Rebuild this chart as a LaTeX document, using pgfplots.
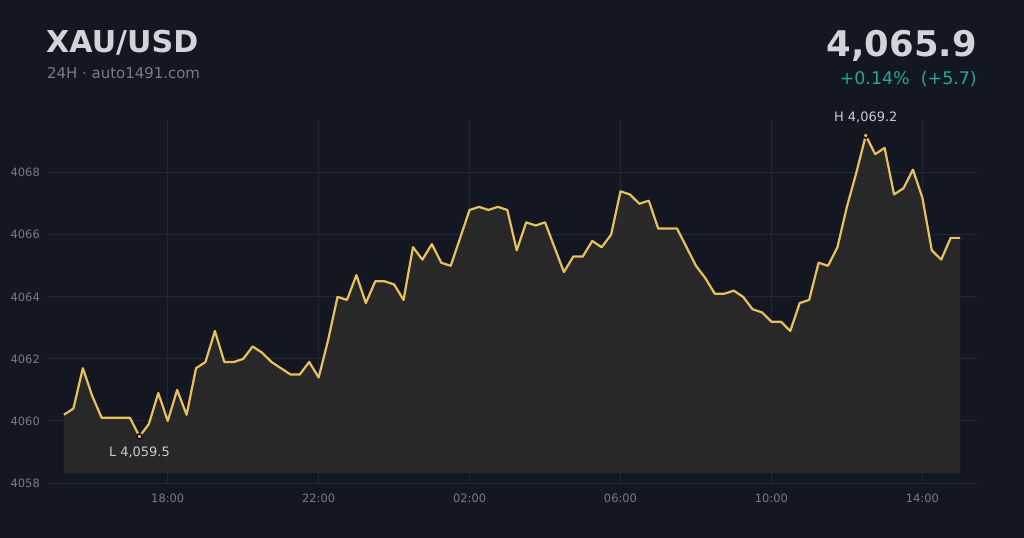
\documentclass[border=0pt]{standalone}
\usepackage{fontspec}
\setmainfont{DejaVu Sans}
\usepackage{pgfplots}
\usepackage{pgfplotstable}
\pgfplotsset{compat=1.18}
\definecolor{bgc}{HTML}{131722}
\definecolor{gridc}{HTML}{232733}
\definecolor{tickc}{HTML}{787B86}
\definecolor{titlec}{HTML}{D1D4DC}
\definecolor{gold}{HTML}{E6C15C}
\definecolor{tealc}{HTML}{26A69A}
\definecolor{hlc}{HTML}{C8CBD3}
\definecolor{fillc}{HTML}{2D2C2A}
\pgfplotstableread{
i v
0 4060.2
1 4060.4
2 4061.7
3 4060.8
4 4060.1
5 4060.1
6 4060.1
7 4060.1
8 4059.5
9 4059.9
10 4060.9
11 4060.0
12 4061.0
13 4060.2
14 4061.7
15 4061.9
16 4062.9
17 4061.9
18 4061.9
19 4062.0
20 4062.4
21 4062.2
22 4061.9
23 4061.7
24 4061.5
25 4061.5
26 4061.9
27 4061.4
28 4062.6
29 4064.0
30 4063.9
31 4064.7
32 4063.8
33 4064.5
34 4064.5
35 4064.4
36 4063.9
37 4065.6
38 4065.2
39 4065.7
40 4065.1
41 4065.0
42 4065.9
43 4066.8
44 4066.9
45 4066.8
46 4066.9
47 4066.8
48 4065.5
49 4066.4
50 4066.3
51 4066.4
52 4065.6
53 4064.8
54 4065.3
55 4065.3
56 4065.8
57 4065.6
58 4066.0
59 4067.4
60 4067.3
61 4067.0
62 4067.1
63 4066.2
64 4066.2
65 4066.2
66 4065.6
67 4065.0
68 4064.6
69 4064.1
70 4064.1
71 4064.2
72 4064.0
73 4063.6
74 4063.5
75 4063.2
76 4063.2
77 4062.9
78 4063.8
79 4063.9
80 4065.1
81 4065.0
82 4065.6
83 4066.9
84 4068.0
85 4069.2
86 4068.6
87 4068.8
88 4067.3
89 4067.5
90 4068.1
91 4067.2
92 4065.5
93 4065.2
94 4065.9
95 4065.9
95 4058.34
0 4058.34
}\pricedata
\begin{document}
\begin{tikzpicture}
\path[use as bounding box] (0,0) rectangle (1024bp,538bp);
\fill[bgc] (0,0) rectangle (1024bp,538bp);
\node[anchor=base west, inner sep=0, text=titlec, font=\fontsize{30.2}{33}\selectfont\bfseries] at (46bp,485bp) {XAU/USD};
\node[anchor=base west, inner sep=0, text=tickc, font=\fontsize{15}{17}\selectfont] at (47bp,459bp) {24H · auto1491.com};
\node[anchor=base east, inner sep=0, text=titlec, font=\fontsize{35.5}{38}\selectfont\bfseries] at (977bp,481bp) {4,065.9};
\node[anchor=base east, inner sep=0, text=tealc, font=\fontsize{17.5}{19}\selectfont] at (977bp,453bp) {+0.14\%\ \ (+5.7)};
\begin{axis}[
  at={(47bp,55bp)}, anchor=south west,
  scale only axis, width=931bp, height=363bp,
  xmin=-1.8, xmax=96.9, ymin=4058, ymax=4069.7,
  xtick={11,27,43,59,75,91},
  xticklabels={18:00,22:00,02:00,06:00,10:00,14:00},
  ytick={4058,4060,4062,4064,4066,4068},
  grid=major, major grid style={draw=gridc, line width=0.9bp},
  axis line style={draw=none}, major tick length=0pt,
  tick style={draw=none},
  ticklabel style={text=tickc, font=\fontsize{11.5}{13}\selectfont, inner sep=0pt},
  yticklabel style={anchor=east, xshift=-7bp, /pgf/number format/.cd, fixed, 1000 sep={}, assume math mode=true},
  xticklabel style={anchor=north, yshift=-11bp},
  clip=false,
]
\addplot[fill=fillc, fill opacity=0.85, draw=none] table[x=i, y=v] {\pricedata};
\addplot[draw=white, draw opacity=0.05, line width=0.8bp] coordinates {(0,4058.34) (95,4058.34)};
\addplot[draw=gold, line width=2.2bp, line join=round, skip coords between index={96}{98}] table[x=i, y=v] {\pricedata};
\addplot[only marks, mark=*, mark size=2.6bp, mark options={fill=gold, draw=bgc, line width=1.6bp},
  nodes near coords={H 4,069.2},
  every node near coord/.append style={anchor=base, yshift=14bp, inner sep=0pt, text=hlc, font=\fontsize{13}{15}\selectfont}]
  coordinates {(85,4069.2)};
\addplot[only marks, mark=*, mark size=2.6bp, mark options={fill=gold, draw=bgc, line width=1.6bp},
  nodes near coords={L 4,059.5},
  every node near coord/.append style={anchor=north, yshift=-10bp, inner sep=0pt, text=hlc, font=\fontsize{13}{15}\selectfont}]
  coordinates {(8,4059.5)};
\end{axis}
\end{tikzpicture}
\end{document}
